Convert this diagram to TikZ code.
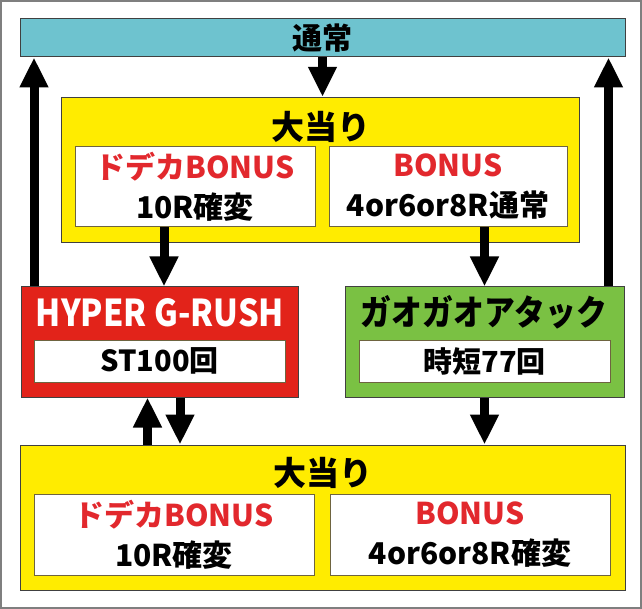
\documentclass[tikz,border=0pt]{standalone}
\usepackage{fontspec}
\setmainfont{Noto Sans CJK JP}[BoldFont={Noto Sans CJK JP Black}]
\usepackage{tikz}
\usetikzlibrary{arrows.meta,positioning}

\definecolor{normalcyan}{HTML}{6EC3CF}
\definecolor{hityellow}{HTML}{FFEC00}
\definecolor{rushred}{HTML}{E2231A}
\definecolor{attackgreen}{HTML}{7AC143}
\definecolor{bonusred}{HTML}{E2282D}
\definecolor{framegray}{HTML}{7F7F7F}
\definecolor{innerline}{HTML}{6E6440}

\begin{document}
\begin{tikzpicture}[x=1pt,y=-1pt,font=\bfseries,
                    state node/.style={rectangle,draw=black!75,line width=1pt,inner sep=0pt},
                    inner node/.style={rectangle,draw=innerline,line width=1pt,fill=white,inner sep=0pt,align=center},
                    flow/.style={line width=9pt,-{Triangle[width=27pt,length=30pt]}}]

  \useasboundingbox (0,0) rectangle (642,609);
  \draw[framegray,line width=2pt] (1,1) rectangle (641,608);

  % states
  \node[state node,fill=normalcyan,minimum width=605pt,minimum height=38pt,
        font=\bfseries\fontsize{30}{30}\selectfont] (normal) at (322.5,38) {通常};
  \node[state node,fill=hityellow,minimum width=518pt,minimum height=145pt] (hit1) at (320.75,169.8) {};
  \node[state node,fill=rushred,minimum width=277pt,minimum height=110pt] (rush) at (159.75,342) {};
  \node[state node,fill=attackgreen,minimum width=279pt,minimum height=110pt] (attack) at (484.5,342) {};
  \node[state node,fill=hityellow,minimum width=605pt,minimum height=145pt] (hit2) at (322.5,517.5) {};

  % titles
  \node[font=\bfseries\fontsize{33}{33}\selectfont] (t1) at (320.75,127) {大当り};
  \node[font=\bfseries\fontsize{37}{37}\selectfont,text=white] (t2) at (160,313) {\scalebox{0.88}[1]{HYPER G-RUSH}};
  \node[font=\bfseries\fontsize{35}{35}\selectfont] (t3) at (484,312) {\scalebox{0.88}[1]{ガオガオアタック}};
  \node[font=\bfseries\fontsize{33}{33}\selectfont] (t4) at (322.5,473) {大当り};

  % contents
  \node[inner node,minimum width=240pt,minimum height=80pt,font=\bfseries\fontsize{30}{40}\selectfont]
        (b1) at (195,187) {{\color{bonusred}ドデカBONUS}\\10R確変};
  \node[inner node,minimum width=238pt,minimum height=80pt,font=\bfseries\fontsize{30}{40}\selectfont]
        (b2) at (448,187) {{\color{bonusred}BONUS}\\4or6or8R通常};
  \node[inner node,minimum width=251pt,minimum height=42pt,font=\bfseries\fontsize{29}{29}\selectfont]
        (st) at (159.5,361) {ST100回};
  \node[inner node,minimum width=251pt,minimum height=42pt,font=\bfseries\fontsize{29}{29}\selectfont]
        (jitan) at (484.5,361) {時短77回};
  \node[inner node,minimum width=280pt,minimum height=81pt,font=\bfseries\fontsize{30}{40}\selectfont]
        (b3) at (174,535) {{\color{bonusred}ドデカBONUS}\\10R確変};
  \node[inner node,minimum width=280pt,minimum height=81pt,font=\bfseries\fontsize{30}{40}\selectfont]
        (b4) at (470,535) {{\color{bonusred}BONUS}\\4or6or8R確変};

  \coordinate (lx) at (34,0);
  \coordinate (rx) at (608.5,0);
  \coordinate (ax) at (164,0);
  \coordinate (ux) at (147.5,0);
  \coordinate (dx) at (180,0);

  % arrows
  \draw[flow] (normal.south) -- (normal.south |- hit1.north);
  \draw[flow] (ax |- b1.south) -- (ax |- rush.north);
  \draw[flow] (attack.north |- b2.south) -- (attack.north);
  \draw[flow] (lx |- rush.north) -- (lx |- normal.south);
  \draw[flow] (rx |- attack.north) -- (rx |- normal.south);
  \draw[flow] (ux |- hit2.north) -- (ux |- rush.south);
  \draw[flow] (dx |- rush.south) -- (dx |- hit2.north);
  \draw[flow] (attack.south) -- (attack.south |- hit2.north);
\end{tikzpicture}
\end{document}
